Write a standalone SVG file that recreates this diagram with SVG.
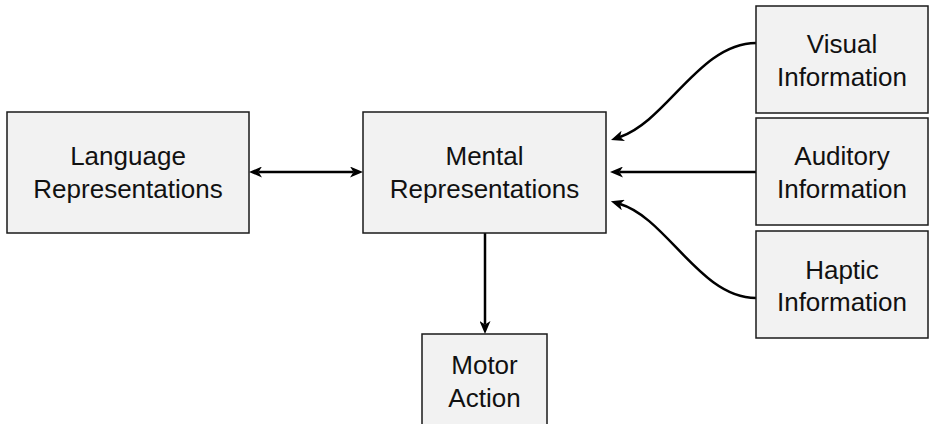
<svg xmlns="http://www.w3.org/2000/svg" width="929" height="424" viewBox="0 0 929 424">
  <style>
    .box { fill: #f2f2f2; stroke: #1a1a1a; stroke-width: 1.5; }
    .lbl { font-family: "Liberation Sans", Arial, sans-serif; font-size: 26px; fill: #111; text-anchor: middle; }
    .edge { fill: none; stroke: #000; stroke-width: 2.5; }
  </style>
  <defs>
    <marker id="arrow" viewBox="0 0 13 11" refX="3.5" refY="5.5" markerWidth="13" markerHeight="11" markerUnits="userSpaceOnUse" orient="auto-start-reverse">
      <path d="M0,0 L13,5.5 L0,11 L3.5,5.5 z" fill="#000"/>
    </marker>
  </defs>

  <rect width="929" height="424" fill="#ffffff"/>

  <g id="connectors">
    <path class="edge" d="M258.5,172 L353.5,172" marker-start="url(#arrow)" marker-end="url(#arrow)"/>
    <path class="edge" d="M756,43 C700,43 667,121 620,137" marker-end="url(#arrow)"/>
    <path class="edge" d="M756,172 L619.5,172" marker-end="url(#arrow)"/>
    <path class="edge" d="M756,298 C700,298 667,218 620,204" marker-end="url(#arrow)"/>
    <path class="edge" d="M485,233 L485,324.5" marker-end="url(#arrow)"/>
  </g>

  <g id="language">
    <rect class="box" x="7" y="112" width="242" height="121"/>
    <text class="lbl" x="128" y="165">Language</text>
    <text class="lbl" x="128" y="198">Representations</text>
  </g>

  <g id="mental">
    <rect class="box" x="363" y="112" width="243" height="121"/>
    <text class="lbl" x="484.5" y="165">Mental</text>
    <text class="lbl" x="484.5" y="198">Representations</text>
  </g>

  <g id="visual">
    <rect class="box" x="756" y="6" width="172" height="107"/>
    <text class="lbl" x="842" y="53">Visual</text>
    <text class="lbl" x="842" y="86">Information</text>
  </g>

  <g id="auditory">
    <rect class="box" x="756" y="118" width="172" height="107"/>
    <text class="lbl" x="842" y="165">Auditory</text>
    <text class="lbl" x="842" y="198">Information</text>
  </g>

  <g id="haptic">
    <rect class="box" x="756" y="231" width="172" height="107"/>
    <text class="lbl" x="842" y="279">Haptic</text>
    <text class="lbl" x="842" y="311">Information</text>
  </g>

  <g id="motor">
    <rect class="box" x="422" y="334" width="125" height="96"/>
    <text class="lbl" x="484.5" y="374">Motor</text>
    <text class="lbl" x="484.5" y="407">Action</text>
  </g>
</svg>
